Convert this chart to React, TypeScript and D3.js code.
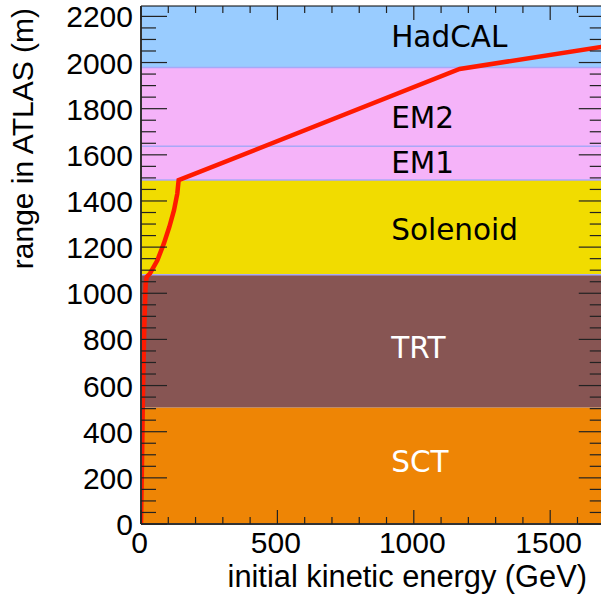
import React from "react";
import * as d3 from "d3";

// ---- data ----
const bandNames = ["SCT", "TRT", "Solenoid", "EM1", "EM2", "HadCAL"];
const bandLower = [0, 505, 1080, 1491, 1637, 1978];
const bandUpper = [505, 1080, 1491, 1637, 1978, 2245];
const bandColors = ["#ee8505", "#875553", "#f1dc00", "#f5b3f9", "#f5b3f9", "#99ccff"];
const bandTextColors = ["#ffffff", "#ffffff", "#000000", "#000000", "#000000", "#000000"];
const bandLabelRange = [226, 719, 1230, 1521, 1716, 2067];

const energy = [0, 2, 4, 5.5, 7, 9, 12, 17, 21, 33, 60, 84, 104, 121, 133, 138, 1168, 1700];
const rangeM = [0, 150, 300, 420, 550, 680, 850, 1040, 1071, 1086, 1143, 1216, 1288, 1360, 1432, 1490, 1972, 2070];

const xTicks = [0, 500, 1000, 1500];
const yTicks = [0, 200, 400, 600, 800, 1000, 1200, 1400, 1600, 1800, 2000, 2200];

const X_MAX = 1700;
const Y_MAX = 2245;

export default function App() {
  const W = 601, H = 603;
  const left = 141, top = 6, bottom = 524;
  const right = left + X_MAX * 0.2728;
  const x = d3.scaleLinear().domain([0, X_MAX]).range([left, right]);
  const y = d3.scaleLinear().domain([0, Y_MAX]).range([bottom, top]);

  const line = d3
    .line<number>()
    .x((_, i) => x(energy[i]))
    .y((_, i) => y(rangeM[i]))
    .curve(d3.curveLinear);

  const xMinor = d3.range(0, X_MAX + 1, 100);
  const yMinor = d3.range(0, Y_MAX + 1, 50);
  const labelE = 917;
  const tickFont = "'Liberation Sans', Arial, Helvetica, sans-serif";
  const bandFont = "'DejaVu Sans', Verdana, sans-serif";

  return (
    <svg
      width={W}
      height={H}
      style={{ position: "absolute", left: 0, top: 0, background: "#fff" }}
    >
      <defs>
        <clipPath id="plotclip">
          <rect x={left} y={top} width={right - left} height={bottom - top} />
        </clipPath>
      </defs>
      <g clipPath="url(#plotclip)">
        {bandNames.map((n, i) => (
          <rect
            key={n}
            x={left}
            y={y(bandUpper[i])}
            width={right - left}
            height={y(bandLower[i]) - y(bandUpper[i])}
            fill={bandColors[i]}
          />
        ))}
        {[1080, 1491, 1637, 1978].map((v) => (
          <line
            key={v}
            x1={left}
            x2={right}
            y1={y(v)}
            y2={y(v)}
            stroke="#a8a8f8"
            strokeWidth={1.5}
          />
        ))}
        {bandNames.map((n, i) => (
          <text
            key={"t" + n}
            x={x(labelE)}
            y={y(bandLabelRange[i])}
            fill={bandTextColors[i]}
            fontFamily={bandFont}
            fontSize={29.5}
          >
            {n}
          </text>
        ))}
        <path
          d={line(energy) || ""}
          fill="none"
          stroke="#ff1a00"
          strokeWidth={4.5}
          strokeLinejoin="miter"
        />
      </g>

      {/* frame */}
      <line x1={left} x2={right} y1={top} y2={top} stroke="#000" strokeWidth={1.2} />
      <line x1={left} x2={right} y1={bottom} y2={bottom} stroke="#333" strokeWidth={2} />
      <line x1={left} x2={left} y1={top} y2={bottom} stroke="#333" strokeWidth={2} />
      <line x1={right} x2={right} y1={top} y2={bottom} stroke="#000" strokeWidth={1.2} />

      {/* x ticks */}
      {xMinor.map((v) => {
        const major = v % 500 === 0;
        const len = major ? 14 : 7;
        return (
          <g key={"xt" + v}>
            <line x1={x(v)} x2={x(v)} y1={bottom} y2={bottom - len} stroke="#222" strokeWidth={1.2} />
            <line x1={x(v)} x2={x(v)} y1={top} y2={top + len} stroke="#222" strokeWidth={1.2} />
          </g>
        );
      })}
      {/* y ticks */}
      {yMinor.map((v) => {
        const major = v % 200 === 0;
        const len = major ? 26 : 15;
        return (
          <g key={"yt" + v}>
            <line x1={left} x2={left + len} y1={y(v)} y2={y(v)} stroke="#222" strokeWidth={1.2} />
            <line x1={right} x2={right - len} y1={y(v)} y2={y(v)} stroke="#222" strokeWidth={1.2} />
          </g>
        );
      })}

      {xTicks.map((v) => (
        <text
          key={"xl" + v}
          x={x(v) - 1.5}
          y={553}
          textAnchor="middle"
          fontFamily={tickFont}
          fontSize={30}
          fill="#000"
        >
          {v}
        </text>
      ))}
      {yTicks.map((v) => (
        <text
          key={"yl" + v}
          x={133}
          y={y(v) + 11}
          textAnchor="end"
          fontFamily={tickFont}
          fontSize={30}
          fill="#000"
        >
          {v}
        </text>
      ))}

      <text
        x={587}
        y={587}
        textAnchor="end"
        fontFamily={tickFont}
        fontSize={30.8}
        fill="#000"
      >
        initial kinetic energy (GeV)
      </text>
      <text
        transform="translate(33,8) rotate(-90)"
        textAnchor="end"
        fontFamily={tickFont}
        fontSize={30}
        fill="#000"
      >
        range in ATLAS (m)
      </text>
    </svg>
  );
}
